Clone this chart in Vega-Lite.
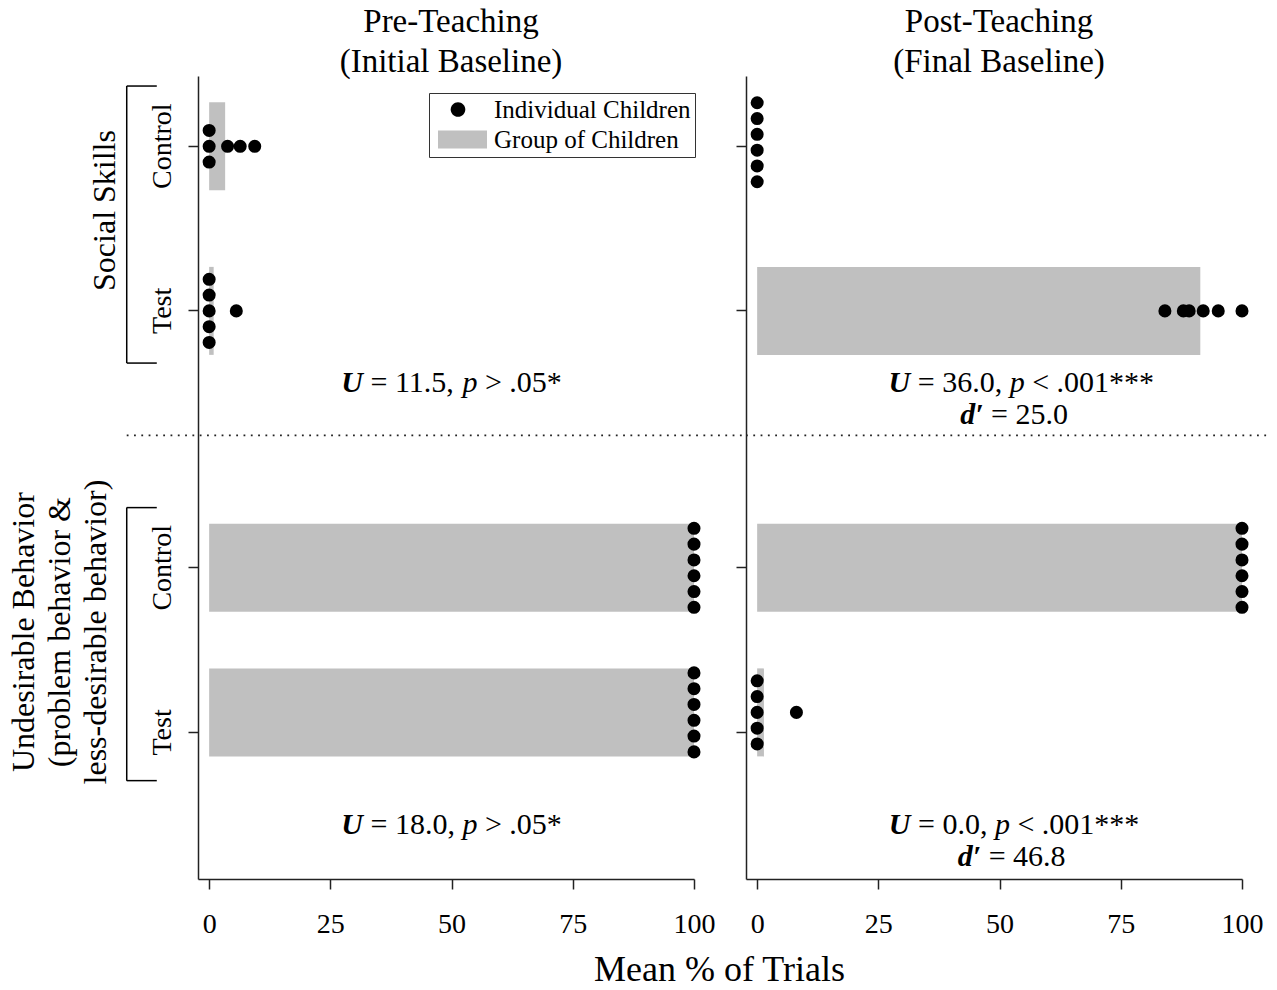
{
  "$schema": "https://vega.github.io/schema/vega-lite/v6.json",
  "background": "white",
  "padding": {"left": 7, "top": 6, "right": 5, "bottom": 0},
  "bounds": "flush",
  "spacing": 52,
  "config": {
    "font": "Liberation Serif",
    "view": {"stroke": null},
    "axis": {"grid": false, "domainColor": "#222", "domainWidth": 1.5, "tickColor": "#222", "tickWidth": 1.5, "labelColor": "black", "labelFont": "Liberation Serif", "titleFont": "Liberation Serif", "titleColor": "black"},
    "title": {"font": "Liberation Serif", "fontSize": 33, "fontWeight": "normal", "color": "black", "lineHeight": 40, "anchor": "middle", "offset": 4},
    "text": {"font": "Liberation Serif", "color": "black"},
    "rule": {"color": "black", "strokeWidth": 1.5}
  },
  "datasets": {
    "dots": [
      {"phase": "Pre", "skill": "Social Skills", "group": "Control", "value": 0, "stack": -1},
      {"phase": "Pre", "skill": "Social Skills", "group": "Control", "value": 0, "stack": 0},
      {"phase": "Pre", "skill": "Social Skills", "group": "Control", "value": 0, "stack": 1},
      {"phase": "Pre", "skill": "Social Skills", "group": "Control", "value": 3.8, "stack": 0},
      {"phase": "Pre", "skill": "Social Skills", "group": "Control", "value": 6.4, "stack": 0},
      {"phase": "Pre", "skill": "Social Skills", "group": "Control", "value": 9.4, "stack": 0},
      {"phase": "Pre", "skill": "Social Skills", "group": "Test", "value": 0, "stack": -2},
      {"phase": "Pre", "skill": "Social Skills", "group": "Test", "value": 0, "stack": -1},
      {"phase": "Pre", "skill": "Social Skills", "group": "Test", "value": 0, "stack": 0},
      {"phase": "Pre", "skill": "Social Skills", "group": "Test", "value": 0, "stack": 1},
      {"phase": "Pre", "skill": "Social Skills", "group": "Test", "value": 0, "stack": 2},
      {"phase": "Pre", "skill": "Social Skills", "group": "Test", "value": 5.6, "stack": 0},
      {"phase": "Pre", "skill": "Undesirable Behavior", "group": "Control", "value": 100, "stack": -2.5},
      {"phase": "Pre", "skill": "Undesirable Behavior", "group": "Control", "value": 100, "stack": -1.5},
      {"phase": "Pre", "skill": "Undesirable Behavior", "group": "Control", "value": 100, "stack": -0.5},
      {"phase": "Pre", "skill": "Undesirable Behavior", "group": "Control", "value": 100, "stack": 0.5},
      {"phase": "Pre", "skill": "Undesirable Behavior", "group": "Control", "value": 100, "stack": 1.5},
      {"phase": "Pre", "skill": "Undesirable Behavior", "group": "Control", "value": 100, "stack": 2.5},
      {"phase": "Pre", "skill": "Undesirable Behavior", "group": "Test", "value": 100, "stack": -2.5},
      {"phase": "Pre", "skill": "Undesirable Behavior", "group": "Test", "value": 100, "stack": -1.5},
      {"phase": "Pre", "skill": "Undesirable Behavior", "group": "Test", "value": 100, "stack": -0.5},
      {"phase": "Pre", "skill": "Undesirable Behavior", "group": "Test", "value": 100, "stack": 0.5},
      {"phase": "Pre", "skill": "Undesirable Behavior", "group": "Test", "value": 100, "stack": 1.5},
      {"phase": "Pre", "skill": "Undesirable Behavior", "group": "Test", "value": 100, "stack": 2.5},
      {"phase": "Post", "skill": "Social Skills", "group": "Control", "value": 0, "stack": -2.5},
      {"phase": "Post", "skill": "Social Skills", "group": "Control", "value": 0, "stack": -1.5},
      {"phase": "Post", "skill": "Social Skills", "group": "Control", "value": 0, "stack": -0.5},
      {"phase": "Post", "skill": "Social Skills", "group": "Control", "value": 0, "stack": 0.5},
      {"phase": "Post", "skill": "Social Skills", "group": "Control", "value": 0, "stack": 1.5},
      {"phase": "Post", "skill": "Social Skills", "group": "Control", "value": 0, "stack": 2.5},
      {"phase": "Post", "skill": "Social Skills", "group": "Test", "value": 84.1, "stack": 0},
      {"phase": "Post", "skill": "Social Skills", "group": "Test", "value": 87.9, "stack": 0},
      {"phase": "Post", "skill": "Social Skills", "group": "Test", "value": 89.1, "stack": 0},
      {"phase": "Post", "skill": "Social Skills", "group": "Test", "value": 92.0, "stack": 0},
      {"phase": "Post", "skill": "Social Skills", "group": "Test", "value": 95.1, "stack": 0},
      {"phase": "Post", "skill": "Social Skills", "group": "Test", "value": 100, "stack": 0},
      {"phase": "Post", "skill": "Undesirable Behavior", "group": "Control", "value": 100, "stack": -2.5},
      {"phase": "Post", "skill": "Undesirable Behavior", "group": "Control", "value": 100, "stack": -1.5},
      {"phase": "Post", "skill": "Undesirable Behavior", "group": "Control", "value": 100, "stack": -0.5},
      {"phase": "Post", "skill": "Undesirable Behavior", "group": "Control", "value": 100, "stack": 0.5},
      {"phase": "Post", "skill": "Undesirable Behavior", "group": "Control", "value": 100, "stack": 1.5},
      {"phase": "Post", "skill": "Undesirable Behavior", "group": "Control", "value": 100, "stack": 2.5},
      {"phase": "Post", "skill": "Undesirable Behavior", "group": "Test", "value": 0, "stack": -2},
      {"phase": "Post", "skill": "Undesirable Behavior", "group": "Test", "value": 0, "stack": -1},
      {"phase": "Post", "skill": "Undesirable Behavior", "group": "Test", "value": 0, "stack": 0},
      {"phase": "Post", "skill": "Undesirable Behavior", "group": "Test", "value": 0, "stack": 1},
      {"phase": "Post", "skill": "Undesirable Behavior", "group": "Test", "value": 0, "stack": 2},
      {"phase": "Post", "skill": "Undesirable Behavior", "group": "Test", "value": 8.1, "stack": 0}
    ],
    "means": [
      {"phase": "Pre", "skill": "Social Skills", "group": "Control", "mean": 3.3},
      {"phase": "Pre", "skill": "Social Skills", "group": "Test", "mean": 0.93},
      {"phase": "Pre", "skill": "Undesirable Behavior", "group": "Control", "mean": 100},
      {"phase": "Pre", "skill": "Undesirable Behavior", "group": "Test", "mean": 100},
      {"phase": "Post", "skill": "Social Skills", "group": "Control", "mean": 0},
      {"phase": "Post", "skill": "Social Skills", "group": "Test", "mean": 91.4},
      {"phase": "Post", "skill": "Undesirable Behavior", "group": "Control", "mean": 100},
      {"phase": "Post", "skill": "Undesirable Behavior", "group": "Test", "mean": 1.4}
    ]
  },
  "hconcat": [
    {
      "width": 496,
      "height": 803,
      "title": {"text": ["Pre-Teaching", "(Initial Baseline)"], "dx": 5, "dy": 7},
      "data": {"values": [{}]},
      "layer": [
        {
          "data": {"name": "means"},
          "transform": [{"filter": "datum.phase === 'Pre' && datum.skill === 'Social Skills' && datum.group === 'Control'"}],
          "mark": {"type": "bar", "orient": "horizontal", "height": 88},
          "encoding": {
            "x": {"field": "mean", "type": "quantitative", "scale": {"domain": [-2.3, 100], "nice": false, "zero": false},
                  "axis": {"values": [0, 25, 50, 75, 100], "title": "Mean % of Trials", "titleFontSize": 36, "titleFontWeight": "normal", "titleX": 521, "titleY": 90, "titleAlign": "center", "titleBaseline": "middle",
                           "tickSize": 10, "labelFontSize": 28, "labelPadding": 21, "labelFlush": false, "labelOverlap": false}},
            "x2": {"datum": 0},
            "y": {"datum": 17, "type": "ordinal",
                  "scale": {"type": "band", "paddingInner": 0, "paddingOuter": 0, "domain": [0,1,2,3,4,5,6,7,8,9,10,11,12,13,14,15,16,17,18,19,20,21,22,23,24,25,26,27,28,29,30,31,32,33,34,35,36,37,38,39,40,41,42,43,44,45,46,47,48,49,50,51,52,53,54,55,56,57,58,59,60,61,62,63,64,65,66,67,68,69,70,71,72,73,74,75,76,77,78,79,80,81,82,83,84,85,86,87,88,89,90,91,92,93,94,95,96,97,98,99,100,101,102,103,104,105,106,107,108,109,110,111,112,113,114,115,116,117,118,119,120,121,122,123,124,125,126,127,128,129,130,131,132,133,134,135,136,137,138,139,140,141,142,143,144,145,146,147,148,149,150,151,152,153,154,155,156,157,158,159,160,161,162,163,164,165,166,167,168,169,170,171,172,173,174,175,176,177,178,179,180,181,182,183,184,185,186,187,188,189,190,191,192,193,194,195,196,197,198,199]},
                  "axis": {"values": [17, 58, 122, 163], "title": null, "tickSize": 10, "labelAngle": 270, "labelAlign": "center", "labelBaseline": "bottom", "labelPadding": 12, "labelFontSize": 28, "labelOverlap": false,
                           "labelExpr": "(datum.value === 17 || datum.value === 122) ? 'Control' : 'Test'"}},
            "color": {"datum": "Group of Children", "type": "nominal",
                      "scale": {"domain": ["Individual Children", "Group of Children"], "range": ["black", "#c0c0c0"]},
                      "legend": {"orient": "none", "legendX": 231, "legendY": 17, "title": null, "strokeColor": "#333", "fillColor": "white", "padding": 4,
                                 "symbolSize": 625, "symbolStrokeWidth": 0, "labelFontSize": 25, "labelFont": "Liberation Serif", "labelColor": "black", "labelOffset": 36, "labelLimit": 0, "rowPadding": 4,
                                 "encode": {"symbols": {"update": {
                                   "shape": {"signal": "datum.value === 'Individual Children' ? 'M0.416,0A0.584,0.584 0 1,0 1.584,0A0.584,0.584 0 1,0 0.416,0Z' : 'M-0.6,-0.72H3.32V0.72H-0.6Z'"},
                                   "fill": {"signal": "datum.value === 'Individual Children' ? 'black' : '#c0c0c0'"},
                                   "opacity": {"value": 1}}}}}}
          }
        },
        {
          "data": {"name": "means"},
          "transform": [{"filter": "datum.phase === 'Pre' && datum.skill === 'Social Skills' && datum.group === 'Test'"}],
          "mark": {"type": "bar", "orient": "horizontal", "height": 88},
          "encoding": {"x": {"field": "mean", "type": "quantitative"}, "x2": {"datum": 0}, "y": {"datum": 58, "type": "ordinal", "scale": {"type": "band"}}, "color": {"datum": "Group of Children", "type": "nominal"}}
        },
        {
          "data": {"name": "means"},
          "transform": [{"filter": "datum.phase === 'Pre' && datum.skill === 'Undesirable Behavior' && datum.group === 'Control'"}],
          "mark": {"type": "bar", "orient": "horizontal", "height": 88},
          "encoding": {"x": {"field": "mean", "type": "quantitative"}, "x2": {"datum": 0}, "y": {"datum": 122, "type": "ordinal", "scale": {"type": "band"}}, "color": {"datum": "Group of Children", "type": "nominal"}}
        },
        {
          "data": {"name": "means"},
          "transform": [{"filter": "datum.phase === 'Pre' && datum.skill === 'Undesirable Behavior' && datum.group === 'Test'"}],
          "mark": {"type": "bar", "orient": "horizontal", "height": 88},
          "encoding": {"x": {"field": "mean", "type": "quantitative"}, "x2": {"datum": 0}, "y": {"datum": 158, "type": "ordinal", "scale": {"type": "band"}}, "color": {"datum": "Group of Children", "type": "nominal"}}
        },
        {
          "data": {"name": "dots"},
          "transform": [{"filter": "datum.phase === 'Pre' && datum.skill === 'Social Skills' && datum.group === 'Control'"}],
          "mark": {"type": "point", "filled": true, "size": 170, "opacity": 1, "strokeWidth": 0},
          "encoding": {"x": {"field": "value", "type": "quantitative"}, "y": {"datum": 17, "type": "ordinal", "scale": {"type": "band"}},
                       "yOffset": {"field": "stack", "type": "quantitative", "scale": {"domain": [-1, 1], "range": [-13.79, 17.81], "zero": false, "nice": false}},
                       "color": {"datum": "Individual Children", "type": "nominal"}}
        },
        {
          "data": {"name": "dots"},
          "transform": [{"filter": "datum.phase === 'Pre' && datum.skill === 'Social Skills' && datum.group === 'Test'"}],
          "mark": {"type": "point", "filled": true, "size": 170, "opacity": 1, "strokeWidth": 0},
          "encoding": {"x": {"field": "value", "type": "quantitative"}, "y": {"datum": 58, "type": "ordinal", "scale": {"type": "band"}},
                       "yOffset": {"field": "stack", "type": "quantitative"},
                       "color": {"datum": "Individual Children", "type": "nominal"}}
        },
        {
          "data": {"name": "dots"},
          "transform": [{"filter": "datum.phase === 'Pre' && datum.skill === 'Undesirable Behavior' && datum.group === 'Control'"}],
          "mark": {"type": "point", "filled": true, "size": 170, "opacity": 1, "strokeWidth": 0},
          "encoding": {"x": {"field": "value", "type": "quantitative"}, "y": {"datum": 122, "type": "ordinal", "scale": {"type": "band"}},
                       "yOffset": {"field": "stack", "type": "quantitative"},
                       "color": {"datum": "Individual Children", "type": "nominal"}}
        },
        {
          "data": {"name": "dots"},
          "transform": [{"filter": "datum.phase === 'Pre' && datum.skill === 'Undesirable Behavior' && datum.group === 'Test'"}],
          "mark": {"type": "point", "filled": true, "size": 170, "opacity": 1, "strokeWidth": 0},
          "encoding": {"x": {"field": "value", "type": "quantitative"}, "y": {"datum": 158, "type": "ordinal", "scale": {"type": "band"}},
                       "yOffset": {"field": "stack", "type": "quantitative"},
                       "color": {"datum": "Individual Children", "type": "nominal"}}
        },
        {"mark": {"type": "rule"}, "encoding": {"x": {"datum": -17.0}, "y": {"datum": 2, "type": "ordinal", "scale": {"type": "band"}}, "y2": {"datum": 71}}},
        {"mark": {"type": "rule"}, "encoding": {"x": {"datum": -17.0}, "x2": {"datum": -10.8}, "y": {"datum": 2, "type": "ordinal", "scale": {"type": "band"}}}},
        {"mark": {"type": "rule"}, "encoding": {"x": {"datum": -17.0}, "x2": {"datum": -10.8}, "y": {"datum": 71, "type": "ordinal", "scale": {"type": "band"}}}},
        {"mark": {"type": "rule"}, "encoding": {"x": {"datum": -17.0}, "y": {"datum": 107, "type": "ordinal", "scale": {"type": "band"}}, "y2": {"datum": 175}}},
        {"mark": {"type": "rule"}, "encoding": {"x": {"datum": -17.0}, "x2": {"datum": -10.8}, "y": {"datum": 107, "type": "ordinal", "scale": {"type": "band"}}}},
        {"mark": {"type": "rule"}, "encoding": {"x": {"datum": -17.0}, "x2": {"datum": -10.8}, "y": {"datum": 175, "type": "ordinal", "scale": {"type": "band"}}}},
        {"mark": {"type": "rule", "strokeDash": [1.8, 5.5], "strokeWidth": 1.8, "color": "#222"}, "encoding": {"x": {"datum": -17.0}, "x2": {"datum": 110.9}, "y": {"datum": 89, "type": "ordinal", "scale": {"type": "band"}}}},
        {"mark": {"type": "text", "text": "Social Skills", "angle": 270, "fontSize": 32, "align": "center", "baseline": "middle"},
         "encoding": {"x": {"datum": -21.5}, "y": {"datum": 33, "type": "ordinal", "scale": {"type": "band"}}}},
        {"mark": {"type": "text", "text": ["Undesirable Behavior", "(problem behavior &", "less-desirable behavior)"], "angle": 270, "fontSize": 32, "lineHeight": 36, "align": "center", "baseline": "middle"},
         "encoding": {"x": {"datum": -38.2}, "y": {"datum": 138, "type": "ordinal", "scale": {"type": "band"}}}},
        {"mark": {"type": "text", "text": "U", "fontSize": 30, "fontWeight": "bold", "fontStyle": "italic", "align": "left", "baseline": "middle", "dx": -110.3},
         "encoding": {"x": {"datum": 50}, "y": {"datum": 76, "type": "ordinal", "scale": {"type": "band"}}}},
        {"mark": {"type": "text", "text": "= 11.5,", "fontSize": 30, "align": "left", "baseline": "middle", "dx": -81.1},
         "encoding": {"x": {"datum": 50}, "y": {"datum": 76, "type": "ordinal", "scale": {"type": "band"}}}},
        {"mark": {"type": "text", "text": "p", "fontSize": 30, "fontStyle": "italic", "align": "left", "baseline": "middle", "dx": 10.8},
         "encoding": {"x": {"datum": 50}, "y": {"datum": 76, "type": "ordinal", "scale": {"type": "band"}}}},
        {"mark": {"type": "text", "text": "> .05*", "fontSize": 30, "align": "left", "baseline": "middle", "dx": 33.3},
         "encoding": {"x": {"datum": 50}, "y": {"datum": 76, "type": "ordinal", "scale": {"type": "band"}}}},
        {"mark": {"type": "text", "text": "U", "fontSize": 30, "fontWeight": "bold", "fontStyle": "italic", "align": "left", "baseline": "middle", "dx": -110.3},
         "encoding": {"x": {"datum": 50}, "y": {"datum": 186, "type": "ordinal", "scale": {"type": "band"}}}},
        {"mark": {"type": "text", "text": "= 18.0,", "fontSize": 30, "align": "left", "baseline": "middle", "dx": -81.1},
         "encoding": {"x": {"datum": 50}, "y": {"datum": 186, "type": "ordinal", "scale": {"type": "band"}}}},
        {"mark": {"type": "text", "text": "p", "fontSize": 30, "fontStyle": "italic", "align": "left", "baseline": "middle", "dx": 10.8},
         "encoding": {"x": {"datum": 50}, "y": {"datum": 186, "type": "ordinal", "scale": {"type": "band"}}}},
        {"mark": {"type": "text", "text": "> .05*", "fontSize": 30, "align": "left", "baseline": "middle", "dx": 33.3},
         "encoding": {"x": {"datum": 50}, "y": {"datum": 186, "type": "ordinal", "scale": {"type": "band"}}}}
      ]
    },
    {
      "width": 496,
      "height": 803,
      "title": {"text": ["Post-Teaching", "(Final Baseline)"], "dx": 5, "dy": 7},
      "data": {"values": [{}]},
      "layer": [
        {
          "data": {"name": "means"},
          "transform": [{"filter": "datum.phase === 'Post' && datum.skill === 'Social Skills' && datum.group === 'Control'"}],
          "mark": {"type": "bar", "orient": "horizontal", "height": 88, "color": "#c0c0c0"},
          "encoding": {
            "x": {"field": "mean", "type": "quantitative", "scale": {"domain": [-2.3, 100], "nice": false, "zero": false},
                  "axis": {"values": [0, 25, 50, 75, 100], "title": null, "tickSize": 10, "labelFontSize": 28, "labelPadding": 21, "labelFlush": false, "labelOverlap": false}},
            "x2": {"datum": 0},
            "y": {"datum": 17, "type": "ordinal",
                  "scale": {"type": "band", "paddingInner": 0, "paddingOuter": 0, "domain": [0,1,2,3,4,5,6,7,8,9,10,11,12,13,14,15,16,17,18,19,20,21,22,23,24,25,26,27,28,29,30,31,32,33,34,35,36,37,38,39,40,41,42,43,44,45,46,47,48,49,50,51,52,53,54,55,56,57,58,59,60,61,62,63,64,65,66,67,68,69,70,71,72,73,74,75,76,77,78,79,80,81,82,83,84,85,86,87,88,89,90,91,92,93,94,95,96,97,98,99,100,101,102,103,104,105,106,107,108,109,110,111,112,113,114,115,116,117,118,119,120,121,122,123,124,125,126,127,128,129,130,131,132,133,134,135,136,137,138,139,140,141,142,143,144,145,146,147,148,149,150,151,152,153,154,155,156,157,158,159,160,161,162,163,164,165,166,167,168,169,170,171,172,173,174,175,176,177,178,179,180,181,182,183,184,185,186,187,188,189,190,191,192,193,194,195,196,197,198,199]},
                  "axis": {"values": [17, 58, 122, 163], "title": null, "tickSize": 10, "labels": false}}
          }
        },
        {
          "data": {"name": "means"},
          "transform": [{"filter": "datum.phase === 'Post' && datum.skill === 'Social Skills' && datum.group === 'Test'"}],
          "mark": {"type": "bar", "orient": "horizontal", "height": 88, "color": "#c0c0c0"},
          "encoding": {"x": {"field": "mean", "type": "quantitative"}, "x2": {"datum": 0}, "y": {"datum": 58, "type": "ordinal", "scale": {"type": "band"}}}
        },
        {
          "data": {"name": "means"},
          "transform": [{"filter": "datum.phase === 'Post' && datum.skill === 'Undesirable Behavior' && datum.group === 'Control'"}],
          "mark": {"type": "bar", "orient": "horizontal", "height": 88, "color": "#c0c0c0"},
          "encoding": {"x": {"field": "mean", "type": "quantitative"}, "x2": {"datum": 0}, "y": {"datum": 122, "type": "ordinal", "scale": {"type": "band"}}}
        },
        {
          "data": {"name": "means"},
          "transform": [{"filter": "datum.phase === 'Post' && datum.skill === 'Undesirable Behavior' && datum.group === 'Test'"}],
          "mark": {"type": "bar", "orient": "horizontal", "height": 88, "color": "#c0c0c0"},
          "encoding": {"x": {"field": "mean", "type": "quantitative"}, "x2": {"datum": 0}, "y": {"datum": 158, "type": "ordinal", "scale": {"type": "band"}}}
        },
        {
          "data": {"name": "dots"},
          "transform": [{"filter": "datum.phase === 'Post' && datum.skill === 'Social Skills' && datum.group === 'Control'"}],
          "mark": {"type": "point", "filled": true, "size": 170, "opacity": 1, "strokeWidth": 0, "color": "black"},
          "encoding": {"x": {"field": "value", "type": "quantitative"}, "y": {"datum": 16, "type": "ordinal", "scale": {"type": "band"}},
                       "yOffset": {"field": "stack", "type": "quantitative", "scale": {"domain": [-1, 1], "range": [-13.79, 17.81], "zero": false, "nice": false}}}
        },
        {
          "data": {"name": "dots"},
          "transform": [{"filter": "datum.phase === 'Post' && datum.skill === 'Social Skills' && datum.group === 'Test'"}],
          "mark": {"type": "point", "filled": true, "size": 170, "opacity": 1, "strokeWidth": 0, "color": "black"},
          "encoding": {"x": {"field": "value", "type": "quantitative"}, "y": {"datum": 58, "type": "ordinal", "scale": {"type": "band"}},
                       "yOffset": {"field": "stack", "type": "quantitative"}}
        },
        {
          "data": {"name": "dots"},
          "transform": [{"filter": "datum.phase === 'Post' && datum.skill === 'Undesirable Behavior' && datum.group === 'Control'"}],
          "mark": {"type": "point", "filled": true, "size": 170, "opacity": 1, "strokeWidth": 0, "color": "black"},
          "encoding": {"x": {"field": "value", "type": "quantitative"}, "y": {"datum": 122, "type": "ordinal", "scale": {"type": "band"}},
                       "yOffset": {"field": "stack", "type": "quantitative"}}
        },
        {
          "data": {"name": "dots"},
          "transform": [{"filter": "datum.phase === 'Post' && datum.skill === 'Undesirable Behavior' && datum.group === 'Test'"}],
          "mark": {"type": "point", "filled": true, "size": 170, "opacity": 1, "strokeWidth": 0, "color": "black"},
          "encoding": {"x": {"field": "value", "type": "quantitative"}, "y": {"datum": 158, "type": "ordinal", "scale": {"type": "band"}},
                       "yOffset": {"field": "stack", "type": "quantitative"}}
        },
        {"mark": {"type": "rule", "strokeDash": [1.8, 5.5], "strokeWidth": 1.8, "color": "#222"}, "encoding": {"x": {"datum": -2.3}, "x2": {"datum": 105.2}, "y": {"datum": 89, "type": "ordinal", "scale": {"type": "band"}}}},
        {"mark": {"type": "text", "text": "U", "fontSize": 30, "fontWeight": "bold", "fontStyle": "italic", "align": "left", "baseline": "middle", "dx": -132.8},
         "encoding": {"x": {"datum": 54.5}, "y": {"datum": 76, "type": "ordinal", "scale": {"type": "band"}}}},
        {"mark": {"type": "text", "text": "= 36.0,", "fontSize": 30, "align": "left", "baseline": "middle", "dx": -103.6},
         "encoding": {"x": {"datum": 54.5}, "y": {"datum": 76, "type": "ordinal", "scale": {"type": "band"}}}},
        {"mark": {"type": "text", "text": "p", "fontSize": 30, "fontStyle": "italic", "align": "left", "baseline": "middle", "dx": -11.7},
         "encoding": {"x": {"datum": 54.5}, "y": {"datum": 76, "type": "ordinal", "scale": {"type": "band"}}}},
        {"mark": {"type": "text", "text": "< .001***", "fontSize": 30, "align": "left", "baseline": "middle", "dx": 10.8},
         "encoding": {"x": {"datum": 54.5}, "y": {"datum": 76, "type": "ordinal", "scale": {"type": "band"}}}},
        {"mark": {"type": "text", "text": "d′", "fontSize": 30, "fontWeight": "bold", "fontStyle": "italic", "align": "left", "baseline": "middle", "dx": -53.9},
         "encoding": {"x": {"datum": 53}, "y": {"datum": 84, "type": "ordinal", "scale": {"type": "band"}}}},
        {"mark": {"type": "text", "text": "= 25.0", "fontSize": 30, "align": "left", "baseline": "middle", "dx": -23.0},
         "encoding": {"x": {"datum": 53}, "y": {"datum": 84, "type": "ordinal", "scale": {"type": "band"}}}},
        {"mark": {"type": "text", "text": "U", "fontSize": 30, "fontWeight": "bold", "fontStyle": "italic", "align": "left", "baseline": "middle", "dx": -125.3},
         "encoding": {"x": {"datum": 53}, "y": {"datum": 186, "type": "ordinal", "scale": {"type": "band"}}}},
        {"mark": {"type": "text", "text": "= 0.0,", "fontSize": 30, "align": "left", "baseline": "middle", "dx": -96.1},
         "encoding": {"x": {"datum": 53}, "y": {"datum": 186, "type": "ordinal", "scale": {"type": "band"}}}},
        {"mark": {"type": "text", "text": "p", "fontSize": 30, "fontStyle": "italic", "align": "left", "baseline": "middle", "dx": -19.2},
         "encoding": {"x": {"datum": 53}, "y": {"datum": 186, "type": "ordinal", "scale": {"type": "band"}}}},
        {"mark": {"type": "text", "text": "< .001***", "fontSize": 30, "align": "left", "baseline": "middle", "dx": 3.3},
         "encoding": {"x": {"datum": 53}, "y": {"datum": 186, "type": "ordinal", "scale": {"type": "band"}}}},
        {"mark": {"type": "text", "text": "d′", "fontSize": 30, "fontWeight": "bold", "fontStyle": "italic", "align": "left", "baseline": "middle", "dx": -53.9},
         "encoding": {"x": {"datum": 52.5}, "y": {"datum": 194, "type": "ordinal", "scale": {"type": "band"}}}},
        {"mark": {"type": "text", "text": "= 46.8", "fontSize": 30, "align": "left", "baseline": "middle", "dx": -23.0},
         "encoding": {"x": {"datum": 52.5}, "y": {"datum": 194, "type": "ordinal", "scale": {"type": "band"}}}}
      ]
    }
  ]
}
